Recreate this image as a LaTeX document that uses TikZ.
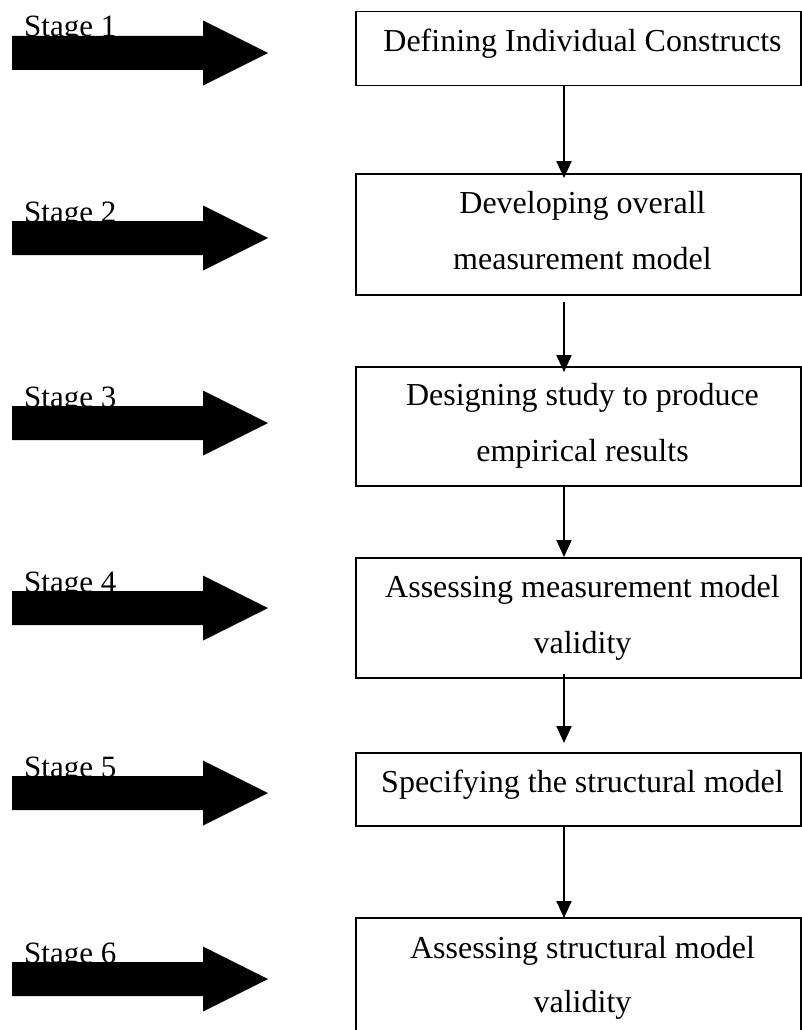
\documentclass[tikz,border=0pt]{standalone}
\usepackage{fontspec}
\setmainfont{Liberation Serif}
\usetikzlibrary{arrows.meta}
\begin{document}
\begin{tikzpicture}[x=1pt,y=-1pt,
  stepbox/.style={draw, line width=1.5pt, rectangle, inner sep=0pt,
                  minimum width=445pt, anchor=north west},
  boxtext/.style={anchor=base, inner sep=0pt, font=\fontsize{32}{38}\selectfont},
  stagelabel/.style={anchor=base west, inner sep=0pt, font=\fontsize{31}{37}\selectfont},
  flow/.style={line width=2pt, -{Triangle[width=15pt,length=17pt]}}]
\useasboundingbox (0,0) rectangle (802,1030);
\clip (0,0) rectangle (802,1030);

% process boxes
\node[stepbox, minimum height=74pt]  (b1) at (355,11)  {};
\node[stepbox, minimum height=121pt] (b2) at (355,173) {};
\node[stepbox, minimum height=119pt] (b3) at (355,366) {};
\node[stepbox, minimum height=120pt] (b4) at (355,557) {};
\node[stepbox, minimum height=73pt]  (b5) at (355,752) {};
\node[stepbox, minimum height=140pt] (b6) at (355,917) {};

% box texts
\node[boxtext] (t1)  at (582.5,52)   {Defining Individual Constructs};
\node[boxtext] (t2a) at (582.5,213)  {Developing overall};
\node[boxtext] (t2b) at (582.5,269)  {measurement model};
\node[boxtext] (t3a) at (582.5,405)  {Designing study to produce};
\node[boxtext] (t3b) at (582.5,461)  {empirical results};
\node[boxtext] (t4a) at (582.5,597)  {Assessing measurement model};
\node[boxtext] (t4b) at (582.5,653)  {validity};
\node[boxtext] (t5)  at (582.5,792)  {Specifying the structural model};
\node[boxtext] (t6a) at (582.5,958)  {Assessing structural model};
\node[boxtext] (t6b) at (582.5,1012) {validity};

% connectors between boxes
\coordinate (ax) at (564,0);
\draw[flow, shorten >=-5pt] (b1.south -| ax) -- (b2.north -| ax);
\draw[flow, shorten <=6pt, shorten >=-6pt] (b2.south -| ax) -- (b3.north -| ax);
\draw[flow] (b3.south -| ax) -- (b4.north -| ax);
\draw[flow, shorten <=-5pt, shorten >=9pt] (b4.south -| ax) -- (b5.north -| ax);
\draw[flow, shorten >=-1pt] (b5.south -| ax) -- (b6.north -| ax);

% stage labels with block arrows drawn over them
\foreach \i/\yc in {1/53,2/238,3/423,4/608,5/793,6/979}{
  \node[stagelabel] (s\i) at (24,\yc-16) {Stage \i};
  \fill (12,\yc-17) -- (203,\yc-17) -- (203,\yc-32.5) -- (268,\yc)
        -- (203,\yc+32.5) -- (203,\yc+17) -- (12,\yc+17) -- cycle;
}
\end{tikzpicture}
\end{document}
